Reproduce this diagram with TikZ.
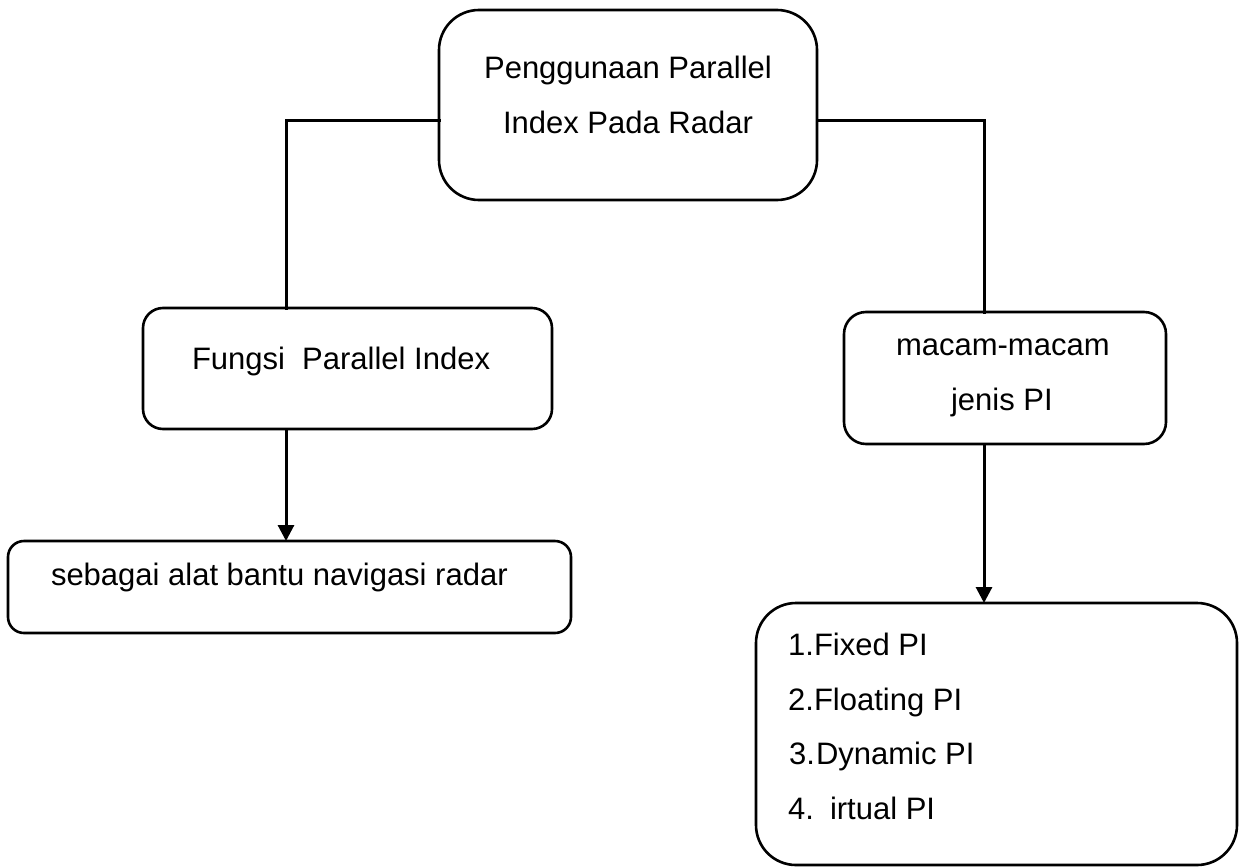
\documentclass[tikz,border=0pt]{standalone}
\usepackage{fontspec}
\setmainfont{Liberation Sans}
\usetikzlibrary{arrows.meta}
\begin{document}
\begin{tikzpicture}[x=1pt,y=-1pt,
  box/.style={draw=black,line width=2.6pt,inner sep=0pt,outer sep=0pt,rectangle},
  lbl/.style={inner sep=0pt,outer sep=0pt,font=\fontsize{31}{37}\selectfont},
  conn/.style={line width=3pt,line cap=rect},
  arr/.style={line width=3pt,-{Triangle[length=16pt,width=16pt]}}]
\useasboundingbox (0,0) rectangle (1241,867);
% boxes
\node[box,rounded corners=40pt,minimum width=378pt,minimum height=190pt] (top) at (628,105) {};
\node[box,rounded corners=20pt,minimum width=409pt,minimum height=121pt] (fungsi) at (347.5,368.5) {};
\node[box,rounded corners=16pt,minimum width=563pt,minimum height=92pt] (sebagai) at (289.5,587) {};
\node[box,rounded corners=22pt,minimum width=322pt,minimum height=132pt] (macam) at (1005,378) {};
\node[box,rounded corners=40pt,minimum width=481pt,minimum height=262pt] (list) at (996.5,734) {};
% texts
\node[lbl,anchor=base] (t1) at (628,78) {Penggunaan Parallel};
\node[lbl,anchor=base] (t2) at (628,133) {Index Pada Radar};
\node[lbl,anchor=base west] (f1) at (192,369) {Fungsi\ \ Parallel Index};
\node[lbl,anchor=base west] (s1) at (51,585) {sebagai alat bantu navigasi radar};
\node[lbl,anchor=base west] (m1) at (896,355) {macam-macam};
\node[lbl,anchor=base west] (m2) at (951,410) {jenis PI};
\node[lbl,anchor=base east] (n1) at (814,655) {1.};
\node[lbl,anchor=base west] (l1) at (814,655) {Fixed PI};
\node[lbl,anchor=base east] (n2) at (814,710) {2.};
\node[lbl,anchor=base west] (l2) at (814,710) {Floating PI};
\node[lbl,anchor=base east] (n3) at (815,764) {3.};
\node[lbl,anchor=base west] (l3) at (816,764) {Dynamic PI};
\node[lbl,anchor=base east] (n4) at (814,819) {4.};
\node[lbl,anchor=base west] (l4) at (830,819) {irtual PI};
% connectors
\draw[conn] ([yshift=-15pt]top.west) -| ([xshift=-61.5pt]fungsi.north);
\draw[conn] ([yshift=-15pt]top.east) -| ([xshift=-21pt]macam.north);
\draw[arr] ([xshift=-61.5pt]fungsi.south) -- ([xshift=-61.5pt]fungsi.south |- sebagai.north);
\draw[arr] ([xshift=-21pt]macam.south) -- ([xshift=-21pt]macam.south |- list.north);
\end{tikzpicture}
\end{document}
